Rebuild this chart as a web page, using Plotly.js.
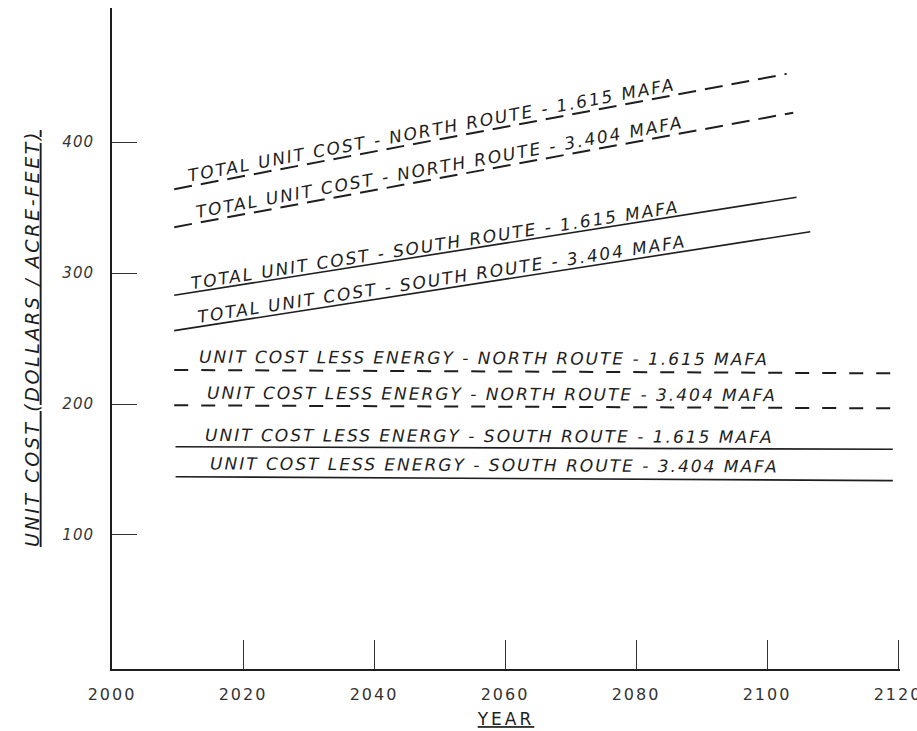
<!DOCTYPE html>
<html>
<head>
<meta charset="utf-8">
<script src="https://cdn.plot.ly/plotly-3.0.1.min.js"></script>
<style>
html,body{margin:0;padding:0;background:#fff;overflow:hidden;}
#chart{width:945px;height:731px;}
.annotation-text{letter-spacing:2px;}
.xtick text{letter-spacing:2px;}
.ytick text{letter-spacing:1px;}
.g-ytitle text{letter-spacing:2.6px;}
.g-xtitle text{letter-spacing:3px;}
</style>
</head>
<body>
<div id="chart"></div>
<script>
// ---- data ----
const seriesLabels = [
  'TOTAL UNIT COST - NORTH ROUTE - 1.615 MAFA',
  'TOTAL UNIT COST - NORTH ROUTE - 3.404 MAFA',
  'TOTAL UNIT COST - SOUTH ROUTE - 1.615 MAFA',
  'TOTAL UNIT COST - SOUTH ROUTE - 3.404 MAFA',
  'UNIT COST LESS ENERGY - NORTH ROUTE - 1.615 MAFA',
  'UNIT COST LESS ENERGY - NORTH ROUTE - 3.404 MAFA',
  'UNIT COST LESS ENERGY - SOUTH ROUTE - 1.615 MAFA',
  'UNIT COST LESS ENERGY - SOUTH ROUTE - 3.404 MAFA'
];
const costType = ['TOTAL','TOTAL','TOTAL','TOTAL','LESS ENERGY','LESS ENERGY','LESS ENERGY','LESS ENERGY'];
const route = ['NORTH','NORTH','SOUTH','SOUTH','NORTH','NORTH','SOUTH','SOUTH'];
const startYear = [2009.5, 2009.5, 2009.5, 2009.5, 2009.5, 2009.5, 2009.7, 2009.7];
const endYear   = [2103.0, 2104.0, 2104.5, 2106.6, 2119.2, 2119.2, 2119.2, 2119.2];
const startCost = [364, 335, 283, 256, 226, 199, 167.4, 144.5];
const endCost   = [452, 422.4, 357.8, 331.5, 223.4, 196.7, 165.4, 141.5];

const xTickVals = [2000, 2020, 2040, 2060, 2080, 2100, 2120];
const xTickText = ['2000', '2020', '2040', '2060', '2080', '2100', '2120'];
const yTickVals = [100, 200, 300, 400];
const yTickText = ['100', '200', '300', '400'];

// ---- layout constants ----
// the figure is a little wider than the 917px window so the last tick label
// is drawn and then cut by the window edge, as in the reference
const W = 945, H = 731;
const M = {l: 112, r: 45, t: 8, b: 62};
const xRange = [2000, 2120.3];
const yRange = [-2.3, 502.3];
const ink = '#1e1e1e';
const FONT = 'DejaVu Sans, sans-serif';

// label placement (year of label centre, perpendicular gap above line)
const labelYear = [2049.0, 2050.3, 2049.5, 2050.6, 2056.8, 2058.0, 2057.7, 2058.4];
const labelGap  = [10.5, 10.5, 9.5, 9.5, 13, 12.5, 12, 13];

const pxPerYear = (W - M.l - M.r) / (xRange[1] - xRange[0]);
const pxPerUnit = (H - M.t - M.b) / (yRange[1] - yRange[0]);

const traces = [];
const annotations = [];
for (let i = 0; i < seriesLabels.length; i++) {
  const north = route[i] === 'NORTH';
  const total = costType[i] === 'TOTAL';
  traces.push({
    type: 'scatter', mode: 'lines', name: seriesLabels[i],
    x: [startYear[i], endYear[i]],
    y: [startCost[i], endCost[i]],
    line: {
      color: ink,
      width: north ? 2 : 1.6,
      dash: north ? (total ? '18px,9px' : '14px,13px') : 'solid'
    },
    hoverinfo: 'skip', showlegend: false
  });
  const t = (labelYear[i] - startYear[i]) / (endYear[i] - startYear[i]);
  const yv = startCost[i] + t * (endCost[i] - startCost[i]);
  const slopePx = ((endCost[i] - startCost[i]) * pxPerUnit) / ((endYear[i] - startYear[i]) * pxPerYear);
  const th = Math.atan(slopePx);
  annotations.push({
    x: labelYear[i], y: yv, xref: 'x', yref: 'y',
    text: '<i>' + seriesLabels[i] + '</i>',
    showarrow: false,
    textangle: -th * 180 / Math.PI,
    xanchor: 'center', yanchor: 'middle',
    xshift: -labelGap[i] * Math.sin(th),
    yshift: labelGap[i] * Math.cos(th),
    font: {family: FONT, size: 17, color: ink}
  });
}

const layout = {
  width: W, height: H,
  margin: M,
  paper_bgcolor: '#fff', plot_bgcolor: '#fff',
  showlegend: false,
  font: {family: FONT, color: ink},
  xaxis: {
    range: xRange, showgrid: false, zeroline: false,
    showline: true, linecolor: ink, linewidth: 2,
    tickmode: 'array', tickvals: xTickVals, ticktext: xTickText,
    ticks: 'inside', ticklen: 29, tickwidth: 1, tickcolor: '#333',
    ticklabelstandoff: 10,
    tickfont: {family: FONT, size: 16, color: '#333'},
    title: {text: 'YEAR', standoff: 10,
            font: {family: FONT, size: 17, color: ink, lineposition: 'under'}},
    automargin: false, fixedrange: true
  },
  yaxis: {
    range: yRange, showgrid: false, zeroline: false,
    showline: true, linecolor: ink, linewidth: 2,
    tickmode: 'array', tickvals: yTickVals, ticktext: yTickText,
    ticks: 'inside', ticklen: 25, tickwidth: 1, tickcolor: '#333',
    ticklabelstandoff: 13,
    tickfont: {family: FONT, size: 15, color: '#333', style: 'italic'},
    title: {text: 'UNIT COST (DOLLARS / ACRE-FEET)', standoff: 18,
            font: {family: FONT, size: 19, color: ink, style: 'italic', lineposition: 'under'}},
    automargin: false, fixedrange: true
  },
  annotations: annotations
};

Plotly.newPlot('chart', traces, layout, {staticPlot: true, displayModeBar: false});
</script>
</body>
</html>
